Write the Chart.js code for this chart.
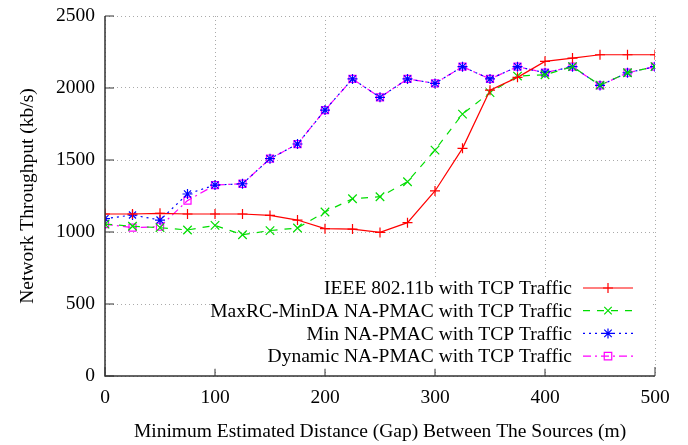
<!DOCTYPE html>
<html>
<head>
<meta charset="utf-8">
<script src="https://cdn.jsdelivr.net/npm/chart.js@4.4.0/dist/chart.umd.min.js"></script>
<style>
  html, body { margin: 0; padding: 0; background: #fff; }
  #wrap { width: 688px; height: 445px; }
</style>
</head>
<body>
<div id="wrap"><canvas id="throughputChart" width="688" height="445"></canvas></div>
<script>
// gap between sources (m)
const gaps = [0, 25, 50, 75, 100, 125, 150, 175, 200, 225, 250, 275, 300, 325, 350, 375, 400, 425, 450, 475, 500];

// throughput (kb/s)
const ieeeTcp    = [1125, 1125, 1130, 1125, 1125, 1125, 1115, 1083, 1023, 1020, 997, 1065, 1285, 1581, 1985, 2074, 2185, 2208, 2231, 2231, 2231];
const maxRcTcp   = [1055, 1040, 1030, 1014, 1046, 981, 1010, 1028, 1139, 1231, 1245, 1349, 1569, 1819, 1968, 2083, 2092, 2148, 2020, 2106, 2148];
const minNaTcp   = [1093, 1118, 1083, 1264, 1326, 1335, 1509, 1611, 1847, 2063, 1935, 2063, 2032, 2148, 2063, 2148, 2106, 2148, 2018, 2106, 2148];
const dynNaTcp   = [1055, 1030, 1037, 1218, 1326, 1335, 1509, 1611, 1847, 2063, 1935, 2063, 2032, 2148, 2063, 2148, 2106, 2148, 2018, 2106, 2148];

const seriesNames = [
  "IEEE 802.11b with TCP Traffic",
  "MaxRC-MinDA NA-PMAC with TCP Traffic",
  "Min NA-PMAC with TCP Traffic",
  "Dynamic NA-PMAC with TCP Traffic"
];

const xTicks = [0, 100, 200, 300, 400, 500];
const yTicks = [0, 500, 1000, 1500, 2000, 2500];

const serif = "'Liberation Serif', 'DejaVu Serif', serif";
const fontSize = 19.5;

function toPoints(values) {
  return gaps.map(function (g, i) { return { x: g, y: values[i] }; });
}

// draws a gnuplot-like marker
function drawMarker(ctx, style, x, y, r) {
  ctx.beginPath();
  if (style === "cross" || style === "star") {
    ctx.moveTo(x - r, y); ctx.lineTo(x + r, y);
    ctx.moveTo(x, y - r); ctx.lineTo(x, y + r);
  }
  if (style === "crossRot" || style === "star") {
    const d = r * 0.75;
    ctx.moveTo(x - d, y - d); ctx.lineTo(x + d, y + d);
    ctx.moveTo(x - d, y + d); ctx.lineTo(x + d, y - d);
  }
  if (style === "rect") {
    const d = r * 0.75;
    ctx.rect(x - d, y - d, 2 * d, 2 * d);
  }
  ctx.stroke();
}

const gnuplotBits = {
  id: "gnuplotBits",
  afterDatasetsDraw(chart) {
    const ctx = chart.ctx;
    const area = chart.chartArea;
    const xs = chart.scales.x, ys = chart.scales.y;
    ctx.save();

    // left + bottom axis with inward ticks
    ctx.strokeStyle = "#333";
    ctx.lineWidth = 1.5;
    ctx.setLineDash([]);
    ctx.beginPath();
    ctx.moveTo(area.left, area.top);
    ctx.lineTo(area.left, area.bottom);
    ctx.lineTo(area.right, area.bottom);
    ctx.stroke();
    ctx.lineWidth = 1;
    ctx.beginPath();
    yTicks.forEach(function (v) {
      const py = ys.getPixelForValue(v);
      ctx.moveTo(area.left, py); ctx.lineTo(area.left + 9, py);
    });
    xTicks.forEach(function (v) {
      const px = xs.getPixelForValue(v);
      ctx.moveTo(px, area.bottom); ctx.lineTo(px, area.bottom - 9);
    });
    ctx.stroke();

    // key box (opaque, bottom right inside plot)
    const rowH = 22.7;
    const firstRow = area.bottom - 88;
    const lineEnd = area.right - 22;
    const lineStart = lineEnd - 50;
    const textRight = lineStart - 11;
    ctx.fillStyle = "#fff";
    ctx.fillRect(212, firstRow - 11, area.right - 4 - 212, rowH * 4 + 1);

    ctx.font = fontSize + "px " + serif;
    ctx.textAlign = "right";
    ctx.textBaseline = "middle";
    chart.data.datasets.forEach(function (ds, i) {
      const y = firstRow + i * rowH;
      ctx.fillStyle = "#000";
      ctx.fillText(ds.label, textRight, y + 1);
      ctx.strokeStyle = ds.borderColor;
      ctx.lineWidth = ds.borderWidth;
      ctx.setLineDash(ds.borderDash || []);
      ctx.beginPath();
      ctx.moveTo(lineStart, y); ctx.lineTo(lineEnd, y);
      ctx.stroke();
      ctx.setLineDash([]);
      drawMarker(ctx, ds.pointStyle, (lineStart + lineEnd) / 2, y, 5);
    });
    ctx.restore();
  }
};

const ctx = document.getElementById("throughputChart").getContext("2d");

const throughputChart = new Chart(ctx, {
  type: "line",
  data: {
    datasets: [
      {
        label: seriesNames[0],
        data: toPoints(ieeeTcp),
        borderColor: "#ff0000",
        borderWidth: 1.2,
        pointStyle: "cross",
        pointRadius: 5,
        pointBorderColor: "#ff0000",
        pointBorderWidth: 1.2
      },
      {
        label: seriesNames[1],
        data: toPoints(maxRcTcp),
        borderColor: "#00dd00",
        borderWidth: 1.2,
        borderDash: [7, 7],
        pointStyle: "crossRot",
        pointRadius: 6,
        pointBorderColor: "#00dd00",
        pointBorderWidth: 1.2
      },
      {
        label: seriesNames[2],
        data: toPoints(minNaTcp),
        borderColor: "#0000ff",
        borderWidth: 1.2,
        borderDash: [2, 4],
        pointStyle: "star",
        pointRadius: 5,
        pointBorderColor: "#0000ff",
        pointBorderWidth: 1.2
      },
      {
        label: seriesNames[3],
        data: toPoints(dynNaTcp),
        borderColor: "#ff00ff",
        borderWidth: 1.2,
        borderDash: [8, 4, 2, 4],
        pointStyle: "rect",
        pointRadius: 5,
        pointBackgroundColor: "rgba(0,0,0,0)",
        pointBorderColor: "#ff00ff",
        pointBorderWidth: 1.2
      }
    ]
  },
  options: {
    responsive: false,
    animation: false,
    layout: { padding: { top: 16, right: 33, left: 0, bottom: 0 } },
    plugins: {
      legend: { display: false },
      tooltip: { enabled: false }
    },
    elements: { line: { tension: 0 } },
    scales: {
      x: {
        type: "linear",
        min: 0,
        max: 500,
        afterBuildTicks: function (axis) { axis.ticks = xTicks.map(function (v) { return { value: v }; }); },
        afterFit: function (axis) { axis.height = 69; axis.paddingLeft = 0; axis.paddingRight = 0; },
        ticks: { color: "#000", padding: 10, font: { family: serif, size: fontSize }, callback: function (v) { return String(v); } },
        grid: { color: "#aaaaaa", lineWidth: 1, drawTicks: false },
        border: { display: false, dash: [1, 3] },
        title: {
          display: true,
          text: "Minimum Estimated Distance (Gap) Between The Sources (m)",
          color: "#000",
          font: { family: serif, size: fontSize },
          padding: { top: 0, bottom: 1 }
        }
      },
      y: {
        min: 0,
        max: 2500,
        afterBuildTicks: function (axis) { axis.ticks = yTicks.map(function (v) { return { value: v }; }); },
        afterFit: function (axis) { axis.width = 105; axis.paddingTop = 0; axis.paddingBottom = 0; },
        ticks: { color: "#000", padding: 10, font: { family: serif, size: fontSize }, callback: function (v) { return String(v); } },
        grid: { color: "#aaaaaa", lineWidth: 1, drawTicks: false },
        border: { display: false, dash: [1, 3] },
        title: {
          display: true,
          text: "Network Throughput (kb/s)",
          color: "#000",
          font: { family: serif, size: fontSize },
          padding: { top: 16, bottom: 0 }
        }
      }
    }
  },
  plugins: [gnuplotBits]
});
</script>
</body>
</html>
